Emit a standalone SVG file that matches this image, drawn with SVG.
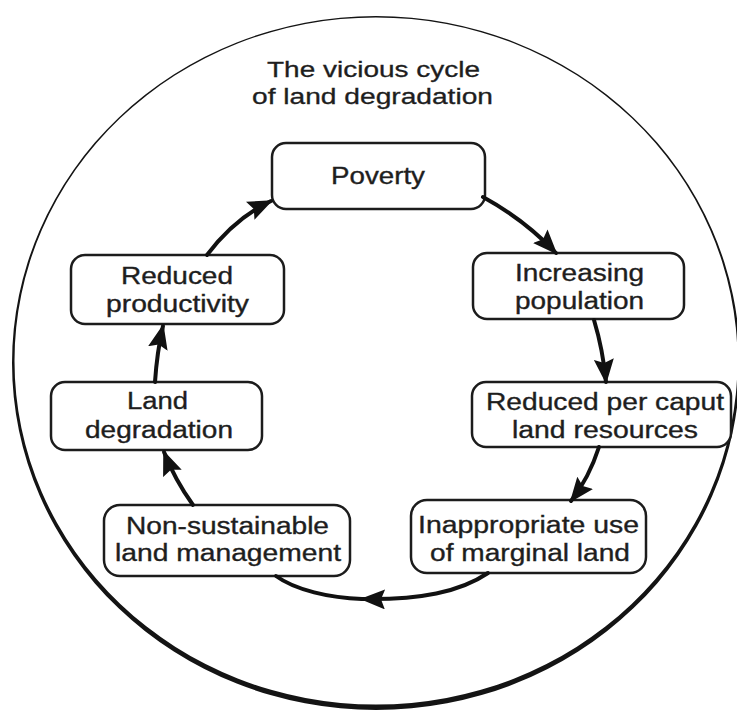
<svg xmlns="http://www.w3.org/2000/svg" width="737" height="713" viewBox="0 0 737 713">
  <style>
    .box { fill: #ffffff; stroke: #1c1c1c; stroke-width: 2.5; }
    .lbl { font-family: "Liberation Sans", Arial, sans-serif; font-size: 23px; fill: #1e1e1e; stroke: #1e1e1e; stroke-width: 0.35; text-anchor: middle; }
    .title { font-family: "Liberation Sans", Arial, sans-serif; font-size: 21.5px; fill: #1e1e1e; stroke: #1e1e1e; stroke-width: 0.3; text-anchor: middle; }
    .arrow { fill: none; stroke: #111111; stroke-width: 4; stroke-linecap: round; }
  </style>
  <defs>
    <marker id="ah" markerUnits="userSpaceOnUse" markerWidth="26" markerHeight="20" refX="23" refY="10" orient="auto">
      <path d="M0,0 L25,10 L0,20 L4,10 Z" fill="#111111"/>
    </marker>
  </defs>
  <rect width="737" height="713" fill="#ffffff"/>

  <g id="frame">
    <path fill="#141414" fill-rule="evenodd" d="M 12,363 A 364 347 0 1 0 740,363 A 364 347 0 1 0 12,363 Z M 14.5,361 A 361.5 343.5 0 1 0 737.5,361 A 361.5 343.5 0 1 0 14.5,361 Z"/>
  </g>

  <g id="title">
    <text class="title" x="373.5" y="77" textLength="213" lengthAdjust="spacingAndGlyphs">The vicious cycle</text>
    <text class="title" x="372.5" y="104" textLength="241" lengthAdjust="spacingAndGlyphs">of land degradation</text>
  </g>

  <g id="poverty">
    <rect class="box" x="272" y="143" width="213" height="66" rx="14"/>
    <text class="lbl" x="378" y="184" textLength="94" lengthAdjust="spacingAndGlyphs">Poverty</text>
  </g>

  <g id="increasing-population">
    <rect class="box" x="473" y="253" width="211" height="66" rx="14"/>
    <text class="lbl" x="579.5" y="281" textLength="129" lengthAdjust="spacingAndGlyphs">Increasing</text>
    <text class="lbl" x="579.5" y="309" textLength="129" lengthAdjust="spacingAndGlyphs">population</text>
  </g>

  <g id="reduced-per-caput">
    <rect class="box" x="472" y="382" width="259" height="65" rx="14"/>
    <text class="lbl" x="605" y="410" textLength="238" lengthAdjust="spacingAndGlyphs">Reduced per caput</text>
    <text class="lbl" x="605" y="438" textLength="186" lengthAdjust="spacingAndGlyphs">land resources</text>
  </g>

  <g id="inappropriate-use">
    <rect class="box" x="411" y="500" width="235" height="73" rx="16"/>
    <text class="lbl" x="528.5" y="533" textLength="221" lengthAdjust="spacingAndGlyphs">Inappropriate use</text>
    <text class="lbl" x="530" y="561" textLength="200" lengthAdjust="spacingAndGlyphs">of marginal land</text>
  </g>

  <g id="non-sustainable">
    <rect class="box" x="104" y="505" width="246" height="71" rx="16"/>
    <text class="lbl" x="227.5" y="534" textLength="203" lengthAdjust="spacingAndGlyphs">Non-sustainable</text>
    <text class="lbl" x="228" y="561" textLength="226" lengthAdjust="spacingAndGlyphs">land management</text>
  </g>

  <g id="land-degradation">
    <rect class="box" x="51" y="382" width="211" height="68" rx="14"/>
    <text class="lbl" x="157.5" y="409" textLength="61" lengthAdjust="spacingAndGlyphs">Land</text>
    <text class="lbl" x="159" y="438" textLength="148" lengthAdjust="spacingAndGlyphs">degradation</text>
  </g>

  <g id="reduced-productivity">
    <rect class="box" x="71" y="255" width="213" height="69" rx="14"/>
    <text class="lbl" x="177" y="284" textLength="112" lengthAdjust="spacingAndGlyphs">Reduced</text>
    <text class="lbl" x="177.5" y="312" textLength="143" lengthAdjust="spacingAndGlyphs">productivity</text>
  </g>

  <g id="connectors">
    <path class="arrow" marker-end="url(#ah)" d="M 483,197 Q 525,220 556,253"/>
    <path class="arrow" marker-end="url(#ah)" d="M 594,320 Q 603,350 606,382"/>
    <path class="arrow" marker-end="url(#ah)" d="M 599,447 Q 589,478 571,501"/>
    <path class="arrow" marker-end="url(#ah)" d="M 488,573 C 460,592 420,600 362,599"/>
    <path class="arrow" d="M 362,599 C 330,598 295,590 276,576"/>
    <path class="arrow" marker-end="url(#ah)" d="M 193,505 Q 175,480 164,452"/>
    <path class="arrow" marker-end="url(#ah)" d="M 155,382 Q 157,352 163,326"/>
    <path class="arrow" marker-end="url(#ah)" d="M 207,255 Q 235,218 271,201"/>
  </g>
</svg>
